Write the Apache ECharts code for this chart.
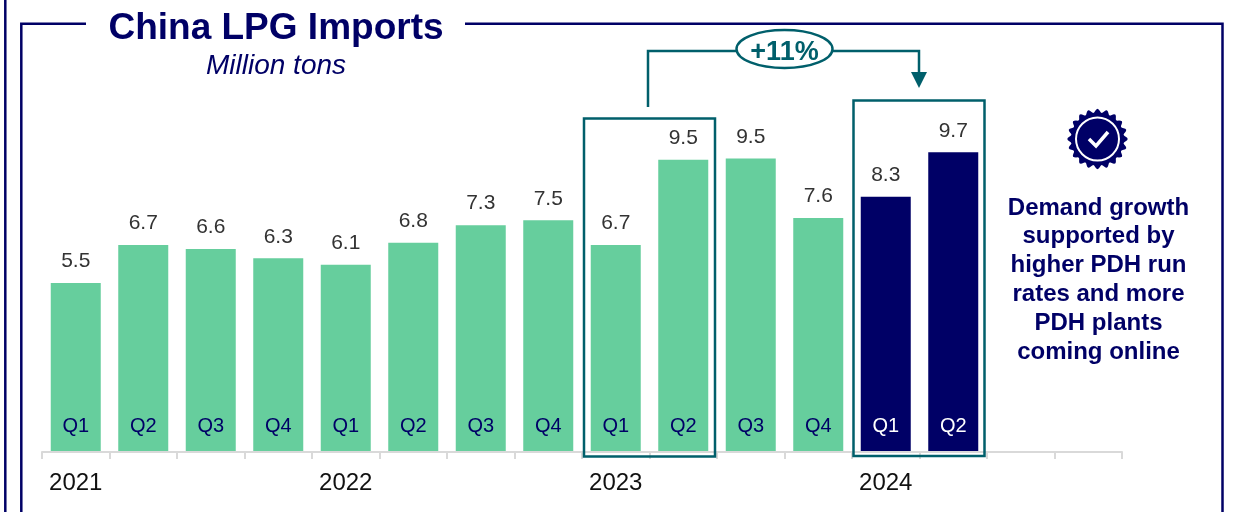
<!DOCTYPE html>
<html><head><meta charset="utf-8">
<style>html,body{margin:0;padding:0;background:#fff}#c{width:1233px;height:512px}</style>
<script src="https://cdn.jsdelivr.net/npm/echarts@6/dist/echarts.min.js"></script>
</head><body><div id="c"></div>
<script>
const quarters = ['Q1','Q2','Q3','Q4','Q1','Q2','Q3','Q4','Q1','Q2','Q3','Q4','Q1','Q2','',''];
const years = ['2021','','','','2022','','','','2023','','','','2024','','',''];
const imports = [5.47,6.7,6.57,6.27,6.06,6.77,7.34,7.5,6.7,9.46,9.5,7.57,8.26,9.7,null,null];
const highlightFrom = 12;

const NAVY='#000066', TEAL='#005F6B', GREEN='#66CE9D', FONT='"Liberation Sans", Arial, sans-serif';

const line=(pts,color,w)=>({type:'polyline',silent:true,z:20,shape:{points:pts},style:{fill:null,stroke:color,lineWidth:w}});
const badgePts=[];
for(let i=0;i<160;i++){const a=i/160*2*Math.PI,r=28.3+1.9*Math.cos(a*20);badgePts.push([1097.5+r*Math.sin(a),139+r*Math.cos(a)]);}

const chart=echarts.init(document.getElementById('c'),null,{renderer:'canvas'});
chart.setOption({
 animation:false,backgroundColor:'#fff',
 title:{text:'China LPG Imports',subtext:'Million tons',left:276,top:10,textAlign:'center',itemGap:5,padding:0,
  textStyle:{fontFamily:FONT,fontSize:37,fontWeight:'bold',color:NAVY},
  subtextStyle:{fontFamily:FONT,fontSize:28,fontStyle:'italic',color:NAVY}},
 grid:{left:42,width:1080,top:143,height:309},
 yAxis:{type:'value',min:0,max:10,show:false},
 xAxis:[
  {type:'category',data:quarters,position:'bottom',z:5,
   axisLine:{lineStyle:{color:'#D9D9D9',width:2}},
   axisTick:{show:true,length:7,lineStyle:{color:'#D9D9D9',width:2}},
   axisLabel:{inside:true,interval:0,margin:16,fontFamily:FONT,fontSize:20,
     color:(v,i)=>i>=highlightFrom?'#fff':NAVY}},
  {type:'category',data:years,position:'bottom',
   axisLine:{show:false},axisTick:{show:false},
   axisLabel:{interval:0,margin:19,fontFamily:FONT,fontSize:24,color:'#111'}}
 ],
 series:[{type:'bar',xAxisIndex:0,data:imports.map((v,i)=>({value:v,itemStyle:{color:i>=highlightFrom?NAVY:GREEN}})),
  barWidth:50,
  label:{show:true,position:'top',distance:11,fontFamily:FONT,fontSize:21,color:'#333',formatter:p=>p.value==null?'':p.value.toFixed(1)}}],
 graphic:[
  line([[5.3,0],[5.3,512]],NAVY,2.5),
  line([[86,23.8],[21.3,23.8],[21.3,512]],NAVY,2.5),
  line([[465,23.8],[1222.5,23.8],[1222.5,512]],NAVY,2.5),
  {type:'rect',silent:true,z:20,shape:{x:584,y:118.5,width:131,height:338},style:{fill:null,stroke:TEAL,lineWidth:2.5}},
  {type:'rect',silent:true,z:20,shape:{x:853.5,y:100.5,width:131,height:355.5},style:{fill:null,stroke:TEAL,lineWidth:2.5}},
  line([[648,107],[648,51],[736,51]],TEAL,2.5),
  line([[833,51],[919,51],[919,74]],TEAL,2.5),
  {type:'polygon',silent:true,z:20,shape:{points:[[911,72],[927,72],[919,88]]},style:{fill:TEAL}},
  {type:'ellipse',silent:true,z:20,shape:{cx:784.5,cy:49,rx:48,ry:19},style:{fill:'#fff',stroke:TEAL,lineWidth:2.5}},
  {type:'text',silent:true,z:21,x:784.5,y:52.5,style:{text:'+11%',fontFamily:FONT,fontSize:27,fontWeight:'bold',fill:TEAL,align:'center',verticalAlign:'middle'}},
  {type:'polygon',silent:true,z:20,shape:{points:badgePts},style:{fill:NAVY}},
  {type:'circle',silent:true,z:21,shape:{cx:1097.5,cy:139,r:21.5},style:{fill:null,stroke:'#fff',lineWidth:2}},
  line([[1089,139],[1096,146],[1108,132]],'#fff',3.5),
  {type:'text',silent:true,z:21,x:1098.5,y:280,style:{text:'Demand growth\nsupported by\nhigher PDH run\nrates and more\nPDH plants\ncoming online',
    fontFamily:FONT,fontSize:24,fontWeight:'bold',lineHeight:28.8,fill:NAVY,align:'center',verticalAlign:'middle'}}
 ]
});
</script></body></html>
